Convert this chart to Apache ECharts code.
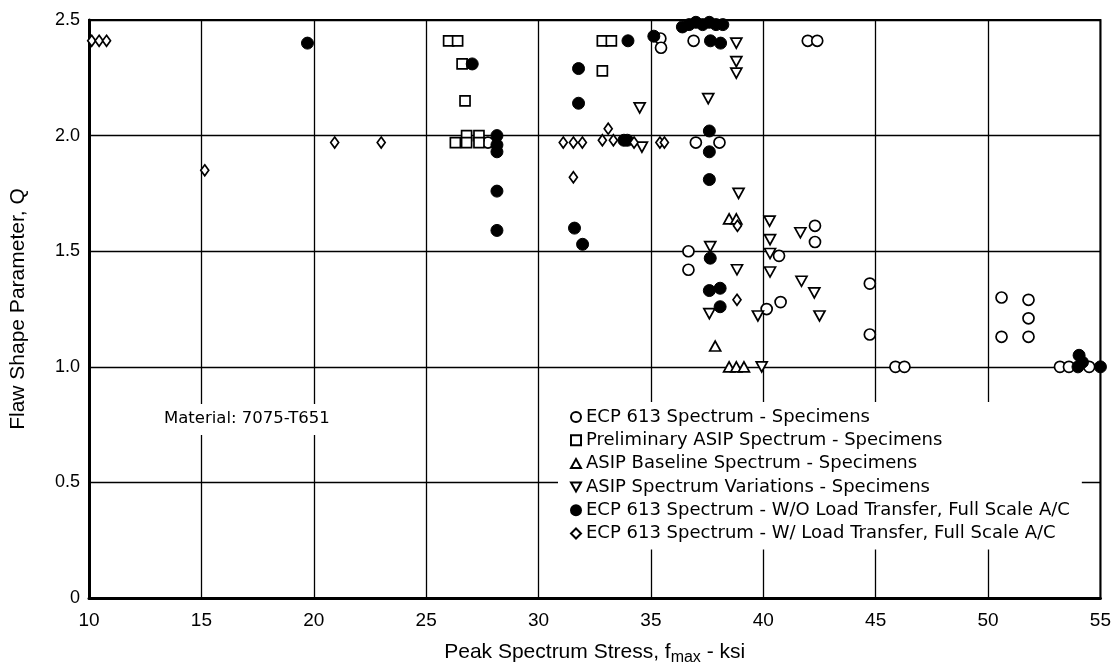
<!DOCTYPE html>
<html>
<head>
<meta charset="utf-8">
<script src="https://cdn.jsdelivr.net/npm/echarts@6/dist/echarts.min.js"></script>
<style>
html,body{margin:0;padding:0;background:#fff;}
#chart{width:1114px;height:671px;}
</style>
</head>
<body>
<div id="chart"></div>
<script>
// ---- data (x: peak spectrum stress ksi, y: flaw shape parameter Q) ----
const xTicks = [10, 15, 20, 25, 30, 35, 40, 45, 50, 55];
const yTicks = [0, 0.5, 1.0, 1.5, 2.0, 2.5];

const seriesNames = [
  'ECP 613 Spectrum - Specimens',
  'Preliminary ASIP Spectrum - Specimens',
  'ASIP Baseline Spectrum - Specimens',
  'ASIP Spectrum Variations - Specimens',
  'ECP 613 Spectrum - W/O Load Transfer, Full Scale A/C',
  'ECP 613 Spectrum - W/ Load Transfer, Full Scale A/C'
];

const ecpSpecimens = [
  [27.75,1.97],[35.42,2.42],[35.45,2.38],[36.9,2.41],[37.0,1.97],[38.05,1.97],
  [41.98,2.41],[42.4,2.41],[36.67,1.50],[36.67,1.42],[40.7,1.48],[40.15,1.25],
  [40.77,1.28],[42.3,1.61],[42.3,1.54],[44.74,1.36],[44.74,1.14],[45.88,1.0],
  [46.28,1.0],[50.6,1.30],[51.8,1.29],[51.8,1.21],[50.6,1.13],[51.8,1.13],
  [53.2,1.0],[53.6,1.0],[54.5,1.0]
];
const prelimAsip = [
  [26.0,2.41],[26.4,2.41],[26.6,2.31],[26.73,2.15],[26.3,1.97],[26.8,2.0],
  [26.8,1.97],[27.35,2.0],[27.35,1.97],[32.84,2.41],[33.24,2.41],[32.84,2.28]
];
const asipBaseline = [
  [38.48,1.64],[38.8,1.64],[37.86,1.09],[38.48,1.0],[38.8,1.0],[39.14,1.0]
];
const asipVariations = [
  [34.5,2.12],[34.6,1.95],[38.8,2.40],[38.8,2.32],[38.8,2.27],[37.55,2.16],
  [38.9,1.75],[37.64,1.52],[38.83,1.42],[37.6,1.23],[39.76,1.22],[40.28,1.63],
  [40.3,1.55],[40.3,1.49],[40.3,1.41],[39.93,1.0],[41.65,1.58],[41.7,1.37],
  [42.27,1.32],[42.5,1.22]
];
const ecpWithout = [
  [19.72,2.40],[27.05,2.31],[28.15,2.0],[28.15,1.96],[28.15,1.93],[28.15,1.76],
  [28.15,1.59],[31.6,1.60],[31.96,1.53],[31.78,2.29],[31.78,2.14],[33.98,2.41],
  [33.8,1.98],[33.95,1.98],[35.13,2.43],[36.4,2.47],[36.7,2.48],[37.0,2.49],
  [37.3,2.48],[37.6,2.49],[37.9,2.48],[38.2,2.48],[37.65,2.41],[38.1,2.40],
  [37.6,2.02],[37.6,1.93],[37.6,1.81],[37.64,1.47],[37.6,1.33],[38.08,1.34],
  [38.08,1.26],[54.0,1.0],[54.05,1.05],[54.2,1.02],[55.0,1.0]
];
const ecpWith = [
  [10.12,2.41],[10.45,2.41],[10.78,2.41],[15.15,1.85],[20.93,1.97],[23.0,1.97],
  [31.1,1.97],[31.55,1.97],[31.95,1.97],[31.55,1.82],[33.1,2.03],[32.84,1.98],
  [33.33,1.98],[34.25,1.97],[35.4,1.97],[35.6,1.97],[38.85,1.61],[38.83,1.29]
];

const materialNote = 'Material: 7075-T651';

// ---- chart ----
const openStyle = {color:'#fff', borderColor:'#000', borderWidth:1.7, opacity:1};
const fillStyle = {color:'#000', borderColor:'#000', borderWidth:1, opacity:1};
const DOWN_TRI = 'path://M0,0L10,0L5,9Z';
const UP_TRI = 'path://M5,0L10,9L0,9Z';

function mk(name, data, symbol, size, style){
  return {name, type:'scatter', data, symbol, symbolSize:size, itemStyle:style,
    emphasis:{disabled:true}, z:3};
}

const chart = echarts.init(document.getElementById('chart'), null, {renderer:'canvas'});
chart.setOption({
  animation:false,
  backgroundColor:'#fff',
  grid:{left:87, right:11, top:20, bottom:70, show:true, borderColor:'#000', borderWidth:2, backgroundColor:'transparent'},
  xAxis:{
    type:'value', min:xTicks[0], max:xTicks[xTicks.length-1], interval:5,
    axisLine:{show:true, onZero:false, lineStyle:{color:'#000', width:3}},
    axisTick:{show:false},
    splitLine:{show:true, lineStyle:{color:'#000', width:1.3}},
    axisLabel:{color:'#000', fontFamily:'Liberation Sans', fontSize:19, margin:13},
    name:'{a|Peak Spectrum Stress, f}{b|max}{a| - ksi}',
    nameLocation:'middle', nameGap:38,
    nameTextStyle:{color:'#000', rich:{
      a:{fontFamily:'Liberation Sans', fontSize:21, color:'#000', lineHeight:24, verticalAlign:'top'},
      b:{fontFamily:'Liberation Sans', fontSize:16, color:'#000', lineHeight:15, padding:[15,0,0,0], verticalAlign:'bottom'}
    }}
  },
  yAxis:{
    type:'value', min:yTicks[0], max:yTicks[yTicks.length-1], interval:0.5,
    axisLine:{show:true, lineStyle:{color:'#000', width:3}},
    axisTick:{show:false},
    splitLine:{show:true, lineStyle:{color:'#000', width:1.3}},
    axisLabel:{color:'#000', fontFamily:'Liberation Sans', fontSize:18, margin:9,
      formatter:v => v === 0 ? '0' : v.toFixed(1)},
    name:'Flaw Shape Parameter, Q', nameLocation:'middle', nameGap:60, nameRotate:90,
    nameTextStyle:{color:'#000', fontFamily:'Liberation Sans', fontSize:21}
  },
  legend:{
    orient:'vertical', left:558, top:402, padding:[5,12,6,12],
    backgroundColor:'#fff', itemWidth:10, itemHeight:10, itemGap:3.3,
    textStyle:{color:'#000', fontFamily:'DejaVu Sans', fontSize:18, lineHeight:20},
    data:seriesNames, selectedMode:false
  },
  graphic:[{
    type:'text', left:160, top:404, z:10,
    style:{text:materialNote, fill:'#000', font:'16.5px "DejaVu Sans"',
      backgroundColor:'#fff', padding:[6,4,8,4]}
  }],
  series:[
    mk(seriesNames[0], ecpSpecimens, 'circle', 11, openStyle),
    mk(seriesNames[1], prelimAsip, 'rect', 10, openStyle),
    mk(seriesNames[2], asipBaseline, UP_TRI, [11,10], openStyle),
    mk(seriesNames[3], asipVariations, DOWN_TRI, [11,10], openStyle),
    mk(seriesNames[4], ecpWithout, 'circle', 12, fillStyle),
    mk(seriesNames[5], ecpWith, 'diamond', [8,11], openStyle)
  ]
});
</script>
</body>
</html>
